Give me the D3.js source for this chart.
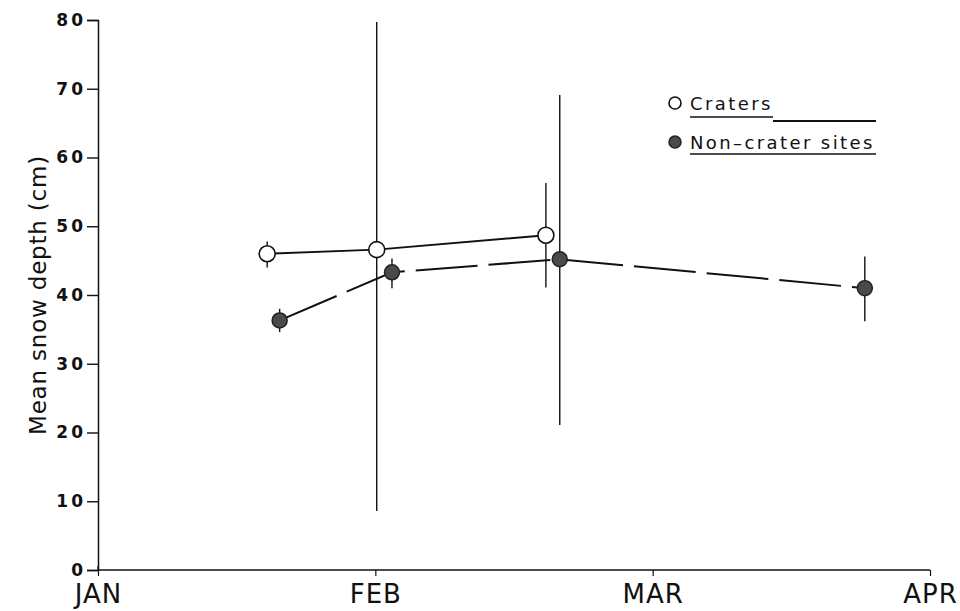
<!DOCTYPE html>
<html>
<head>
<meta charset="utf-8">
<script src="https://cdn.jsdelivr.net/npm/d3@7"></script>
<style>
  html, body { margin: 0; padding: 0; background: #fff; }
  svg { display: block; }
  text { font-family: "DejaVu Sans", "Liberation Sans", sans-serif; fill: #111; }
</style>
</head>
<body>
<svg id="chart" width="960" height="611"></svg>
<script>
// Month ticks (position in months since 1 January)
const monthTicks = [0, 1, 2, 3];
const monthLabels = ["JAN", "FEB", "MAR", "APR"];
const yTicks = [0, 10, 20, 30, 40, 50, 60, 70, 80];

// Craters: sampling date (months since 1 Jan), mean depth, error bar low/high
const craterDate = [0.61, 1.005, 1.615];
const craterMean = [46.0, 46.6, 48.7];
const craterLow  = [44.0, 8.6, 41.1];
const craterHigh = [47.8, 79.7, 56.3];

// Non-crater sites
const siteDate = [0.655, 1.06, 1.665, 2.765];
const siteMean = [36.3, 43.3, 45.2, 41.0];
const siteLow  = [34.6, 41.0, 21.1, 36.2];
const siteHigh = [38.0, 45.3, 69.1, 45.6];

const svg = d3.select("#chart");

const x = d3.scaleLinear().domain([0, 3]).range([98, 930]);
const y = d3.scaleLinear().domain([0, 80]).range([570, 20]);

// Axes
const yAxis = svg.append("g")
  .attr("transform", `translate(${x(0)},0)`)
  .call(d3.axisLeft(y).tickValues(yTicks).tickSize(11).tickPadding(1).tickFormat(d3.format("d")));
yAxis.select(".domain").attr("stroke", "#111").attr("stroke-width", 1.5);
yAxis.selectAll(".tick line").attr("stroke", "#111").attr("stroke-width", 1.4);
yAxis.selectAll(".tick text")
  .style("font-family", "'DejaVu Sans', sans-serif")
  .style("font-size", "17px").style("font-weight", "bold")
  .style("letter-spacing", "3px").attr("fill", "#111");

const xAxis = svg.append("g")
  .attr("transform", `translate(0,${y(0)})`)
  .call(d3.axisBottom(x).tickValues(monthTicks).tickSize(6).tickPadding(9)
    .tickFormat((d, i) => monthLabels[i]));
xAxis.select(".domain").attr("stroke", "#111").attr("stroke-width", 1.5)
  .attr("d", `M${x(0)},0H${x(3)}`);
xAxis.selectAll(".tick line").attr("stroke", "#111").attr("stroke-width", 1.2);
xAxis.selectAll(".tick text")
  .style("font-family", "'DejaVu Sans', sans-serif")
  .style("font-size", "26px").style("letter-spacing", "1px").attr("fill", "#111");
// small upward tick at the origin
svg.append("line").attr("x1", x(0)).attr("x2", x(0)).attr("y1", y(0) - 4).attr("y2", y(0))
  .attr("stroke", "#111").attr("stroke-width", 1.2);

// Y axis title
svg.append("text")
  .attr("transform", `translate(46,${(y(0) + y(80)) / 2}) rotate(-90)`)
  .attr("text-anchor", "middle")
  .style("font-size", "23px")
  .style("letter-spacing", "0.8px")
  .text("Mean snow depth (cm)");

// Error bars
const errs = svg.append("g").attr("stroke", "#111").attr("stroke-width", 1.4);
craterDate.forEach((d, i) => {
  errs.append("line").attr("x1", x(d)).attr("x2", x(d))
    .attr("y1", y(craterLow[i])).attr("y2", y(craterHigh[i]));
});
siteDate.forEach((d, i) => {
  errs.append("line").attr("x1", x(d)).attr("x2", x(d))
    .attr("y1", y(siteLow[i])).attr("y2", y(siteHigh[i]));
});

// Connecting lines
const line = d3.line().x(p => x(p[0])).y(p => y(p[1]));
svg.append("path")
  .attr("d", line(siteDate.map((d, i) => [d, siteMean[i]])))
  .attr("fill", "none").attr("stroke", "#111").attr("stroke-width", 2)
  .attr("stroke-dasharray", "62,11");
svg.append("path")
  .attr("d", line(craterDate.map((d, i) => [d, craterMean[i]])))
  .attr("fill", "none").attr("stroke", "#111").attr("stroke-width", 2);

// Markers
svg.append("g").selectAll("circle").data(siteDate).join("circle")
  .attr("cx", d => x(d)).attr("cy", (d, i) => y(siteMean[i])).attr("r", 7.5)
  .attr("fill", "#4a4a4a").attr("stroke", "#222").attr("stroke-width", 1.5);
svg.append("g").selectAll("circle").data(craterDate).join("circle")
  .attr("cx", d => x(d)).attr("cy", (d, i) => y(craterMean[i])).attr("r", 8)
  .attr("fill", "#fff").attr("stroke", "#111").attr("stroke-width", 1.6);

// Legend
const leg = svg.append("g");
leg.append("circle").attr("cx", 675).attr("cy", 103).attr("r", 6)
  .attr("fill", "#fff").attr("stroke", "#111").attr("stroke-width", 1.6);
leg.append("circle").attr("cx", 675).attr("cy", 142).attr("r", 6)
  .attr("fill", "#4a4a4a").attr("stroke", "#222").attr("stroke-width", 1.5);
leg.append("text").attr("x", 690).attr("y", 110)
  .style("font-size", "18px").style("letter-spacing", "2.4px").text("Craters");
leg.append("text").attr("x", 690).attr("y", 149)
  .style("font-size", "18px").style("letter-spacing", "2.4px").text("Non\u2013crater sites");
leg.append("line").attr("x1", 690).attr("x2", 773).attr("y1", 117).attr("y2", 117)
  .attr("stroke", "#111").attr("stroke-width", 1.6);
leg.append("line").attr("x1", 773).attr("x2", 876).attr("y1", 121).attr("y2", 121)
  .attr("stroke", "#111").attr("stroke-width", 2.2);
leg.append("line").attr("x1", 690).attr("x2", 876).attr("y1", 154).attr("y2", 154)
  .attr("stroke", "#111").attr("stroke-width", 1.6);
</script>
</body>
</html>
